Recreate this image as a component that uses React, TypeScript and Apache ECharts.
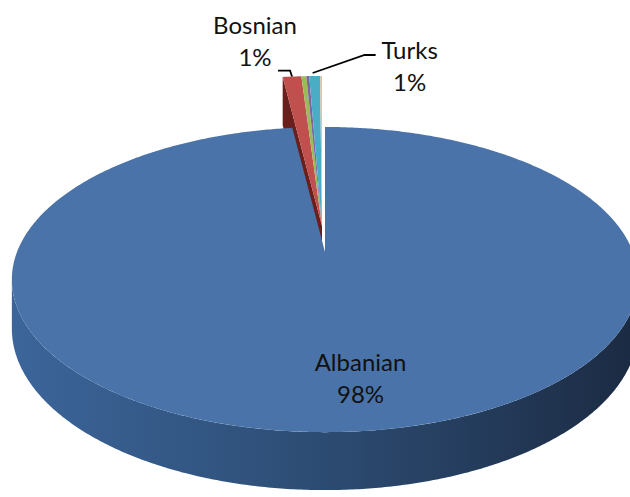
import React, { useEffect, useRef } from 'react';
import * as echarts from 'echarts';

// ---- data ----
const CATEGORIES = ['Albanian', 'Bosnian', 'Serbian', 'Roma', 'Turks', 'Other'];
const VALUES = [98.0, 0.95, 0.25, 0.15, 0.55, 0.1];

// ---- styles ----
const TOP_COLORS = ['#4A74A9', '#C0504D', '#9BBB59', '#8064A2', '#4BACC6', '#D8C6B0'];
const WALL_COLORS = ['#2E4D75', '#6B1F1D', '#5A6E30', '#4A3A60', '#2A6A7A', '#8A7A6A'];
const EXPLODED = [false, true, true, true, true, true];

// ---- geometry of the 3D disc (layout) ----
const CX = 325;
const CY = 252;
const RX = 308;
const RY = 147.6;
const PERSP = 0.1806;
const DEPTH = 47.5;
const EXP_X = 322;
const EXP_Y = 226;
const EXP_SCALE = 1.2;

// ---- label layout ----
const LABEL_LAYOUT: Record<string, any> = {
  Albanian: { inside: true, r: 0.74, dx: 19, dy: 0 },
  Bosnian: { inside: false, leader: [[0, 0], [-2, -6], [-14, -6]], text: [-37, -36] },
  Turks: { inside: false, leader: [[-2, -3], [50, -21], [61, -21]], text: [95, -11] },
};

const FONT = 'Lato, "Open Sans", sans-serif';

export default function App() {
  const ref = useRef<HTMLDivElement>(null);
  useEffect(() => {
    document.body.style.margin = '0';
    const chart = echarts.init(ref.current!, undefined, { renderer: 'svg' });
    const total = VALUES.reduce((a, b) => a + b, 0);

    const renderItem = (params: any, api: any) => {
      const i = params.dataIndex;
      let startVal = 0;
      for (let j = 0; j < i; j++) startVal += VALUES[j];
      const value = api.value(0);
      const t0 = (startVal / total) * Math.PI * 2;
      const t1 = ((startVal + value) / total) * Math.PI * 2;
      const exploded = EXPLODED[i];
      const tf = (p: number[]) =>
        exploded ? [EXP_X + EXP_SCALE * (p[0] - CX), EXP_Y + EXP_SCALE * (p[1] - CY)] : p;
      const proj = (t: number, r: number, down = false) => {
        const u = r * Math.sin(t);
        const v = r * Math.cos(t);
        const w = 1 + PERSP * v;
        const x = CX + (RX * u) / w;
        const y = CY - (RY * v) / w + (down ? DEPTH / w : 0);
        return tf([x, y]);
      };
      const arc = (a: number, b: number, down = false) => {
        const n = Math.max(2, Math.ceil((b - a) / (Math.PI / 360)));
        const pts: number[][] = [];
        for (let k = 0; k <= n; k++) pts.push(proj(a + ((b - a) * k) / n, 1, down));
        return pts;
      };
      const base = exploded ? 0 : 10;
      const children: any[] = [];

      // outer wall (front half only)
      const vis0 = Math.acos(-PERSP);
      const vis1 = Math.PI * 2 - vis0;
      const a = Math.max(t0, vis0);
      const b = Math.min(t1, vis1);
      if (a < b) {
        const pts = arc(a, b).concat(arc(a, b, true).reverse());
        children.push({
          type: 'polygon',
          z2: base + 1,
          shape: { points: pts },
          style: {
            fill: i === 0
              ? new echarts.graphic.LinearGradient(0, 0, 1, 0, [
                  { offset: 0, color: '#3C659A' },
                  { offset: 0.35, color: '#31547F' },
                  { offset: 0.7, color: '#263F60' },
                  { offset: 1, color: '#1B2A42' },
                ])
              : WALL_COLORS[i],
          },
        });
      }

      // counter-clockwise radial wall of an exploded group
      if (exploded && !EXPLODED[i - 1]) {
        children.push({
          type: 'polygon',
          z2: base + 1,
          shape: { points: [proj(t0, 0), proj(t0, 1), proj(t0, 1, true), proj(t0, 0, true)] },
          style: { fill: WALL_COLORS[i] },
        });
      }

      // top face
      children.push({
        type: 'polygon',
        z2: base + 2,
        shape: { points: [proj(t0, 0)].concat(arc(t0, t1)) },
        style: { fill: TOP_COLORS[i] },
      });

      // label
      const name = CATEGORIES[i];
      const lay = LABEL_LAYOUT[name];
      if (lay) {
        const pct = Math.round((value / total) * 100) + '%';
        const mid = (t0 + t1) / 2;
        let tx: number;
        let ty: number;
        if (lay.inside) {
          const p = proj(mid, lay.r);
          tx = p[0] + lay.dx;
          ty = p[1] + lay.dy;
        } else {
          const anchor = proj(mid, 1);
          children.push({
            type: 'polyline',
            z2: 50,
            shape: { points: lay.leader.map((o: number[]) => [anchor[0] + o[0], anchor[1] + o[1]]) },
            style: { stroke: '#000', lineWidth: 1.8, fill: null },
          });
          tx = anchor[0] + lay.text[0];
          ty = anchor[1] + lay.text[1];
        }
        children.push({
          type: 'text',
          z2: 50,
          x: tx,
          y: ty,
          style: {
            text: name + '\n' + pct,
            fill: '#111',
            fontSize: 24,
            fontFamily: FONT,
            lineHeight: 32,
            align: 'center',
            verticalAlign: 'middle',
          },
        });
      }

      return { type: 'group', children };
    };

    chart.setOption({
      animation: false,
      backgroundColor: '#ffffff',
      series: [
        {
          type: 'custom',
          coordinateSystem: 'none',
          silent: true,
          renderItem,
          data: VALUES.map((v, i) => ({ name: CATEGORIES[i], value: [v] })),
        },
      ],
    });
    return () => chart.dispose();
  }, []);
  return <div ref={ref} style={{ width: 630, height: 497 }} />;
}
